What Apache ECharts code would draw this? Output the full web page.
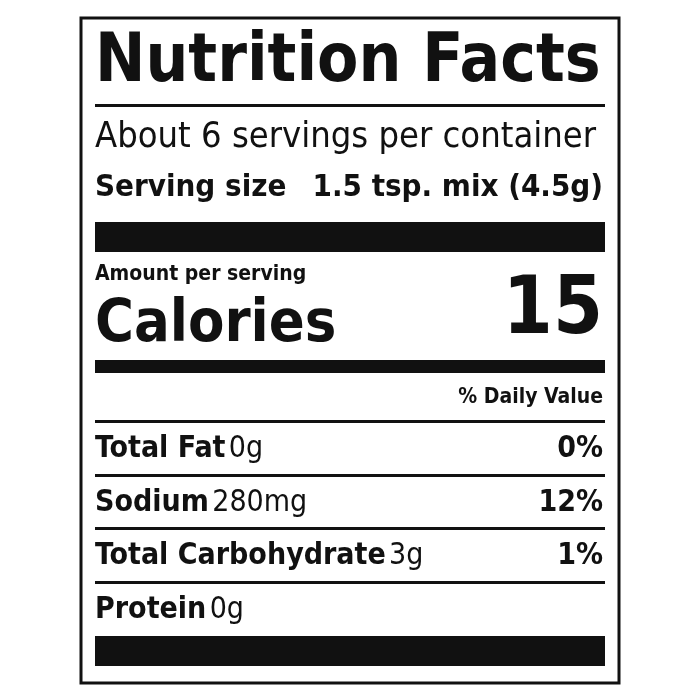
<!DOCTYPE html>
<html><head><meta charset="utf-8">
<script src="https://cdn.jsdelivr.net/npm/echarts@6/dist/echarts.min.js"></script>
<style>html,body{margin:0;padding:0;background:#fff}#c{width:700px;height:700px}</style>
</head><body><div id="c"></div>
<script>
const title = "Nutrition Facts";
const servingsText = "About 6 servings per container";
const servingSizeLabel = "Serving size";
const servingSizeValue = "1.5 tsp. mix (4.5g)";
const calories = "15";
const nutrients = ["Total Fat", "Sodium", "Total Carbohydrate", "Protein"];
const amounts = ["0g", "280mg", "3g", "0g"];
const percents = ["0%", "12%", "1%", ""];

const F = '"Liberation Sans Narrow","DejaVu Sans Condensed","Liberation Sans",sans-serif';
const L = 95, R = 605;
const g = [];
function rect(x, y, w, h, fill, stroke, lw) {
  g.push({type:'rect', shape:{x, y, width:w, height:h},
    style: stroke ? {fill:'none', stroke, lineWidth:lw} : {fill}});
}
function text(x, y, t, size, bold, align, base) {
  g.push({type:'text', x, y, style:{text:t, font:(bold?'bold ':'')+size+'px '+F,
    fill:'#111', textAlign:align||'left', textVerticalAlign:base||'middle'}});
}
function rich(x, y, a, b, size) {
  g.push({type:'text', x, y, style:{text:'{a|'+a+'} {b|'+b+'}', textVerticalAlign:'middle',
    rich:{a:{font:'bold '+size+'px '+F, fill:'#111'}, b:{font:size+'px '+F, fill:'#111'}}}});
}
rect(81, 18, 538, 665, null, '#111', 3);
text(L, 64, title, 67, true, 'left');
rect(L, 104, R-L, 3, '#111');
text(L, 138, servingsText, 36, false);
text(L, 188, servingSizeLabel, 31, true);
text(R-2, 188, servingSizeValue, 31, true, 'right');
rect(L, 222, R-L, 30, '#111');
text(L, 275, "Amount per serving", 21, true);
text(L, 326, "Calories", 59, true);
text(R-2, 312, calories, 80, true, 'right');
rect(L, 360, R-L, 13, '#111');
text(R-2, 398, "% Daily Value", 21, true, 'right');
const lineY = [420, 474, 527, 581];
nutrients.forEach((n, i) => {
  rect(L, lineY[i], R-L, 3, '#111');
  const cy = lineY[i] + 29;
  rich(L, cy, n, amounts[i], 30);
  if (percents[i]) text(R-2, cy, percents[i], 30, true, 'right');
});
rect(L, 636, R-L, 30, '#111');
const chart = echarts.init(document.getElementById('c'));
chart.setOption({animation:false, graphic:{elements:g}});
</script></body></html>
